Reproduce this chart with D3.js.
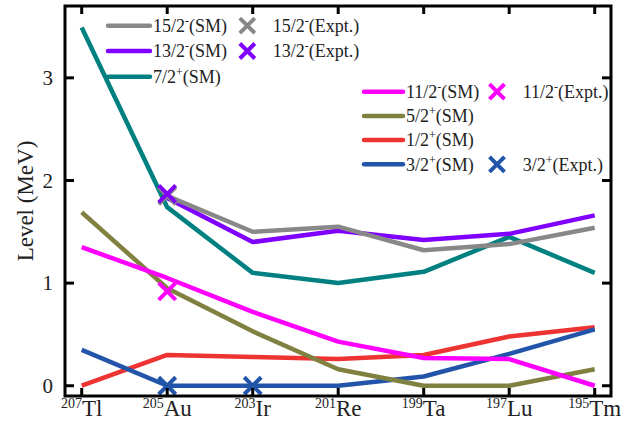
<!DOCTYPE html>
<html>
<head>
<meta charset="utf-8">
<script src="https://cdn.jsdelivr.net/npm/d3@7"></script>
<style>
  html, body { margin: 0; padding: 0; background: #fff; }
  svg { display: block; }
  svg text { font-family: 'Liberation Serif', 'Times New Roman', Times, serif; fill: #222; }
</style>
</head>
<body>
<svg id="chart" width="634" height="432"></svg>
<script>
// ---------------- data ----------------
const nuclei = ["Tl", "Au", "Ir", "Re", "Ta", "Lu", "Tm"];
const massNumbers = ["207", "205", "203", "201", "199", "197", "195"];
const yTicks = [0, 1, 2, 3];

const sm15 = [null, 1.85, 1.50, 1.55, 1.32, 1.38, 1.54];
const sm13 = [null, 1.83, 1.40, 1.51, 1.42, 1.48, 1.66];
const sm7  = [3.49, 1.74, 1.10, 1.00, 1.11, 1.45, 1.10];
const sm11 = [1.35, 1.05, 0.72, 0.43, 0.27, 0.26, 0.00];
const sm5  = [1.69, 0.95, 0.53, 0.16, 0.00, 0.00, 0.16];
const sm1  = [0.00, 0.30, 0.28, 0.26, 0.30, 0.48, 0.57];
const sm3  = [0.35, 0.00, 0.00, 0.00, 0.09, 0.31, 0.55];

const ex15 = [null, 1.85, null, null, null, null, null];
const ex13 = [null, 1.87, null, null, null, null, null];
const ex11 = [null, 0.92, null, null, null, null, null];
const ex3  = [null, 0.00, 0.00, null, null, null, null];

// ---------------- styling ----------------
const FONT = "'Liberation Serif', 'Times New Roman', Times, serif";
const colors = {
  c15: "#888888", c13: "#8000ff", c7: "#008080", c11: "#ff00ff",
  c5: "#808040", c1: "#ee3333", c3: "#2255aa"
};

const smSeries = [
  { values: sm1, color: colors.c1 },
  { values: sm3, color: colors.c3 },
  { values: sm5, color: colors.c5 },
  { values: sm11, color: colors.c11 },
  { values: sm7, color: colors.c7 },
  { values: sm13, color: colors.c13 },
  { values: sm15, color: colors.c15 }
];
const exSeries = [
  { values: ex15, color: colors.c15 },
  { values: ex13, color: colors.c13 },
  { values: ex11, color: colors.c11 },
  { values: ex3, color: colors.c3 }
];

const svg = d3.select("#chart").attr("font-family", FONT);
const L = 65, R = 611, T = 6, B = 396;

const x = d3.scalePoint().domain(d3.range(nuclei.length)).range([81.7, 594.7]);
const y = d3.scaleLinear().domain([-0.10, 3.70]).range([B, T]);

// lines
const line = d3.line()
  .defined(d => d != null)
  .x((d, i) => x(i))
  .y(d => y(d));

const plot = svg.append("g");
smSeries.forEach(s => {
  plot.append("path")
    .datum(s.values)
    .attr("d", line)
    .attr("fill", "none")
    .attr("stroke", s.color)
    .attr("stroke-width", 4.5)
    .attr("stroke-linejoin", "round")
    .attr("stroke-linecap", "butt");
});

// X markers
function drawX(g, cx, cy, color, r) {
  g.append("path")
    .attr("d", `M${cx - r},${cy - r}L${cx + r},${cy + r}M${cx - r},${cy + r}L${cx + r},${cy - r}`)
    .attr("stroke", color).attr("stroke-width", 4).attr("fill", "none");
}
exSeries.forEach(s => {
  s.values.forEach((v, i) => {
    if (v != null) drawX(plot, x(i), y(v), s.color, 8.5);
  });
});

// frame
svg.append("rect")
  .attr("x", L).attr("y", T).attr("width", R - L).attr("height", B - T)
  .attr("fill", "none").attr("stroke", "#000").attr("stroke-width", 3);

// ticks (inward on all sides)
const tickG = svg.append("g").attr("stroke", "#000").attr("stroke-width", 3);
d3.range(nuclei.length).forEach(i => {
  tickG.append("line").attr("x1", x(i)).attr("x2", x(i)).attr("y1", B).attr("y2", B - 8);
  tickG.append("line").attr("x1", x(i)).attr("x2", x(i)).attr("y1", T).attr("y2", T + 8);
});
yTicks.forEach(v => {
  tickG.append("line").attr("x1", L).attr("x2", L + 9).attr("y1", y(v)).attr("y2", y(v));
  tickG.append("line").attr("x1", R).attr("x2", R - 9).attr("y1", y(v)).attr("y2", y(v));
});

// y tick labels
svg.append("g").selectAll("text").data(yTicks).join("text")
  .attr("font-family", FONT)
  .attr("x", 53).attr("y", d => y(d))
  .attr("dy", "0.35em")
  .attr("text-anchor", "end")
  .attr("font-size", 21)
  .text(d => d);

// x tick labels
const xl = svg.append("g");
nuclei.forEach((n, i) => {
  const t = xl.append("text")
    .attr("font-family", FONT)
    .attr("x", x(i)).attr("y", 416)
    .attr("text-anchor", "middle");
  t.append("tspan").attr("font-size", 14).attr("dy", -8).text(massNumbers[i]);
  t.append("tspan").attr("font-size", 23).attr("dy", 8).text(n);
});

// y axis label
svg.append("text")
  .attr("font-family", FONT)
  .attr("transform", `translate(33,${(T + B) / 2}) rotate(-90)`)
  .attr("text-anchor", "middle")
  .attr("font-size", 23)
  .text("Level (MeV)");

// legend
function legendLabel(g, tx, ty, key, sup, tail) {
  const t = g.append("text").attr("font-family", FONT)
    .attr("x", tx).attr("y", ty).attr("dy", "0.35em").attr("font-size", 18);
  t.append("tspan").text(key);
  t.append("tspan").attr("font-size", 12).attr("dy", -7).text(sup);
  t.append("tspan").attr("dy", 7).text(tail);
}
const leg = svg.append("g");
const leg1 = [
  { key: "15/2", sup: "-", color: colors.c15, y: 25.7, ex: true },
  { key: "13/2", sup: "-", color: colors.c13, y: 51, ex: true },
  { key: "7/2", sup: "+", color: colors.c7, y: 76.7, ex: false }
];
leg1.forEach(d => {
  leg.append("line").attr("x1", 108).attr("x2", 150).attr("y1", d.y).attr("y2", d.y)
    .attr("stroke", d.color).attr("stroke-width", 4.5).attr("stroke-linecap", "round");
  legendLabel(leg, 153, d.y, d.key, d.sup, "(SM)");
  if (d.ex) {
    drawX(leg, 247.3, d.y, d.color, 7.5);
    legendLabel(leg, 272.7, d.y, d.key, d.sup, "(Expt.)");
  }
});
const leg2 = [
  { key: "11/2", sup: "-", color: colors.c11, y: 91.7, ex: true },
  { key: "5/2", sup: "+", color: colors.c5, y: 116, ex: false },
  { key: "1/2", sup: "+", color: colors.c1, y: 140, ex: false },
  { key: "3/2", sup: "+", color: colors.c3, y: 164.3, ex: true }
];
leg2.forEach(d => {
  leg.append("line").attr("x1", 364).attr("x2", 403).attr("y1", d.y).attr("y2", d.y)
    .attr("stroke", d.color).attr("stroke-width", 4.5).attr("stroke-linecap", "round");
  legendLabel(leg, 406, d.y, d.key, d.sup, "(SM)");
  if (d.ex) {
    drawX(leg, 497, d.y, d.color, 7.5);
    legendLabel(leg, 522.7, d.y, d.key, d.sup, "(Expt.)");
  }
});
</script>
</body>
</html>
